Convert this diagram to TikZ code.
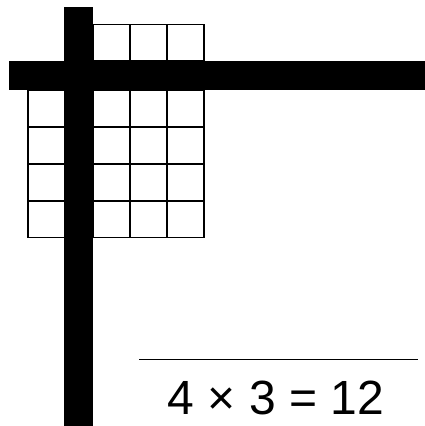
\documentclass[tikz,border=0pt]{standalone}
\usepackage{fontspec}
\setmainfont{Liberation Sans}
\usepackage{tikz}
\tikzset{
  cell/.style={draw=black,line width=1.6pt},
  bar/.style={fill=black,draw=none},
}
\begin{document}
\begin{tikzpicture}[x=1pt,y=-1pt]
\useasboundingbox (0,0) rectangle (425,426);
% top row of squares
\foreach \j in {0,1,2}{
  \draw[cell](93+37*\j,24.3) rectangle ++(37,36.7);
}
% rows under the crossbar
\foreach \k in {0,1,2,3}{
  \draw[cell](27.7,90+36.9*\k) rectangle ++(36.6,36.9);
  \foreach \j in {0,1,2}{
    \draw[cell](93+37*\j,90+36.9*\k) rectangle ++(37,36.9);
  }
}
% the two thick bars
\fill[bar](64.3,7.3) rectangle (92.7,426);
\fill[bar](9.3,61) rectangle (425,90);
% answer line
\coordinate (lineL) at (139.3,359.3);
\coordinate (lineR) at (418,359.3);
\draw[line width=1.5pt](lineL)--(lineR);
\node[anchor=base,inner sep=0pt,font=\fontsize{48}{58}\selectfont](answer)
  at(276,414){4 × 3 = 12};
\end{tikzpicture}
\end{document}
